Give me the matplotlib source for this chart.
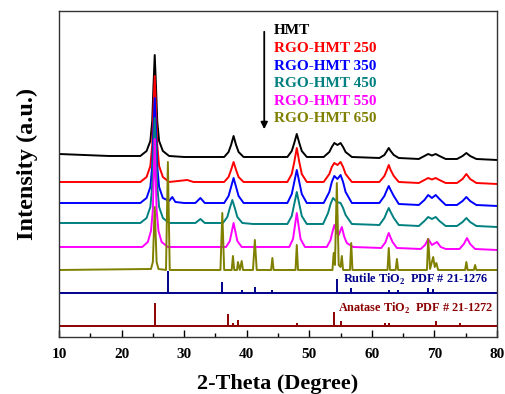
import matplotlib
matplotlib.use('Agg')
import matplotlib.pyplot as plt
from matplotlib.ticker import MultipleLocator

###############################################################################
# Data (2-theta in degrees, intensity in plotted a.u. incl. vertical offset)
###############################################################################
hmtX = [10, 14, 18, 23.0, 24.0, 24.6, 24.9, 25.1, 25.3, 25.5, 25.7, 26.0, 26.6,
        27.6, 30, 33, 36.4, 37.1, 37.5, 37.9, 38.3, 38.7, 39.5, 41, 46.5,
        47.2, 47.6, 48.0, 48.4, 48.8, 49.6, 52.3, 53.2, 53.6, 54.0, 54.5, 55.0,
        55.4, 55.8, 56.8, 61.2, 62.0, 62.4, 62.7, 63.0, 63.5, 64.3, 67.5, 68.4,
        69.0, 69.6, 70.2, 70.8, 71.8, 73.6, 74.5, 75.1, 75.7, 76.7, 80]
hmtY = [183, 182, 181, 181, 186, 196, 216, 251, 282, 251, 216, 196, 186,
        181, 180, 180, 180, 185, 192, 201, 192, 185, 180, 180, 180,
        186, 194, 203, 194, 186, 180, 180, 185, 190, 194, 192, 194,
        190, 185, 180, 179, 182, 186, 189, 186, 182, 179, 178, 181,
        183, 181.5, 183, 181, 178, 178, 181, 184, 181, 178, 177]

r250X = [10, 18, 23.0, 24.0, 24.6, 24.9, 25.1, 25.3, 25.5, 25.7, 26.0, 26.6,
         27.6, 30.5, 31.5, 36.4, 37.1, 37.5, 37.9, 38.3, 38.7, 39.5, 46.5,
         47.2, 47.6, 48.0, 48.4, 48.8, 49.6, 52.3, 53.2, 53.6, 54.0, 54.5, 55.0,
         55.4, 55.8, 56.8, 61.2, 62.0, 62.4, 62.7, 63.0, 63.5, 64.3, 67.5, 68.4,
         69.0, 69.6, 70.2, 70.8, 71.8, 73.6, 74.5, 75.1, 75.7, 76.7, 80]
r250Y = [155, 155, 155, 160, 171, 192, 229, 261, 229, 192, 171, 160,
         155, 157, 155, 155, 160, 167, 175, 167, 160, 155, 155,
         163, 175, 189, 175, 163, 155, 155, 163, 170, 174, 172, 175,
         170, 163, 155, 155, 161, 167, 172, 167, 161, 155, 154, 157,
         159, 157.5, 159, 157, 154, 154, 158, 163, 158, 154, 153]

r350X = [10, 18, 23.0, 24.0, 24.6, 24.9, 25.1, 25.3, 25.5, 25.7, 26.0, 26.6,
         27.6, 28.1, 28.6, 30, 31.8, 32.6, 33.3, 36.4, 37.1, 37.5, 37.9, 38.3,
         38.7, 39.5, 46.5, 47.2, 47.6, 48.0, 48.4, 48.8, 49.6, 52.3, 53.2, 53.6,
         54.0, 54.5, 55.0, 55.4, 55.8, 56.8, 61.2, 62.0, 62.4, 62.7, 63.0, 63.5,
         64.3, 67.5, 68.4, 69.0, 69.6, 70.2, 70.8, 71.8, 73.6, 74.5, 75.1, 75.7,
         76.7, 80]
r350Y = [134, 134, 134, 139, 150, 171, 208, 239, 208, 171, 150, 139,
         136, 140, 135, 134, 134, 139, 134, 134, 141, 150, 159, 150,
         141, 134, 134, 143, 155, 167, 155, 143, 134, 134, 145, 155,
         161, 158, 162, 155, 145, 134, 134, 141, 147, 151, 147, 141,
         133, 132, 137, 142, 139, 142, 138, 132, 132, 136, 140, 136,
         132, 131]

r450X = [10, 18, 23.0, 24.0, 24.6, 24.9, 25.1, 25.3, 25.5, 25.7, 26.0, 26.6,
         27.6, 30, 31.8, 32.6, 33.3, 36.2, 36.9, 37.3, 37.7, 38.1, 38.5, 39.3,
         41, 46.5, 47.2, 47.6, 48.0, 48.4, 48.8, 49.6, 52.2, 53.0, 53.4, 53.8,
         54.4, 55.0, 55.4, 55.8, 56.8, 61.2, 62.0, 62.4, 62.7, 63.0, 63.5, 64.3,
         67.5, 68.4, 69.0, 69.6, 70.2, 70.8, 71.8, 73.6, 74.5, 75.1, 75.7, 76.7,
         80]
r450Y = [114, 114, 114, 119, 130, 151, 188, 219, 188, 151, 130, 119,
         114, 114, 114, 118, 114, 114, 120, 129, 137, 129, 120, 114,
         113, 113, 121, 133, 145, 133, 121, 113, 113, 124, 133, 139,
         135, 134, 129, 122, 113, 112, 119, 125, 129, 125, 119, 112,
         111, 116, 120, 118, 120, 116, 111, 111, 115, 119, 115, 111,
         110]

r550X = [10, 18, 23.3, 24.2, 24.7, 25.0, 25.15, 25.3, 25.45, 25.6, 25.9, 26.4,
         27.4, 30, 36.7, 37.3, 37.6, 37.9, 38.2, 38.5, 39.2, 46.8, 47.4, 47.7,
         48.0, 48.3, 48.6, 49.3, 52.8, 53.4, 53.7, 54.0, 54.4, 54.7, 55.2, 55.6,
         56.0, 57, 61.5, 62.2, 62.45, 62.7, 62.95, 63.3, 64.0, 67.8, 68.5, 69.0,
         69.6, 70.4, 71.0, 71.8, 74.0, 74.7, 75.2, 75.7, 76.5, 80]
r550Y = [90, 90, 90, 95, 106, 127, 163, 198, 163, 127, 106, 95,
         90, 90, 90, 96, 105, 114, 105, 96, 90, 90, 98, 111,
         124, 111, 98, 90, 90, 97, 105, 112, 104, 102, 110, 100,
         94, 90, 89, 95, 100, 104, 100, 95, 89, 88, 92, 98,
         92, 95, 90, 88, 88, 93, 99, 93, 88, 87]

r650X = [10, 24.7, 25.0, 25.3, 25.6, 25.9, 27.1, 27.4, 27.7, 35.8, 36.1, 36.4,
         37.6, 37.8, 38.0, 38.45, 38.6, 38.9, 39.2, 39.4, 41.0, 41.3, 41.6, 43.9,
         44.1, 44.3, 47.8, 48.0, 48.2, 53.7, 53.9, 54.1, 54.4, 54.7, 55.0, 55.2,
         55.4, 56.5, 56.7, 56.9, 62.5, 62.7, 62.9, 63.8, 64.0, 64.2, 68.8, 69.0,
         69.3, 69.8, 70.05, 70.3, 70.6, 74.9, 75.1, 75.3, 76.3, 76.5, 76.7, 80]
r650Y = [67, 68, 75, 130, 75, 68, 67, 175, 67, 67, 124, 67,
         67, 81, 67, 67, 75, 67, 76, 67, 67, 97, 67, 67,
         79, 67, 67, 92, 67, 67, 84, 72, 154, 72, 70, 81,
         67, 67, 94, 67, 67, 89, 67, 67, 78, 67, 67, 98,
         68, 80, 70, 74, 67, 67, 75, 67, 67, 72, 67, 67]

names = ['HMT', 'RGO-HMT 250', 'RGO-HMT 350', 'RGO-HMT 450',
         'RGO-HMT 550', 'RGO-HMT 650']
colors = ['black', '#FF0000', '#0000FF', '#008080', '#FF00FF', '#808000']
seriesX = [hmtX, r250X, r350X, r450X, r550X, r650X]
seriesY = [hmtY, r250Y, r350Y, r450Y, r550Y, r650Y]

# Reference patterns (stick positions and heights)
rutilePos = [27.4, 36.1, 39.2, 41.3, 44.1, 54.4, 56.7, 62.8, 64.1, 69.0, 69.8]
rutileInt = [22, 11, 3, 6, 3, 14, 5, 3, 3, 5, 4]
anatasePos = [25.3, 37.0, 37.8, 38.6, 48.0, 53.9, 55.1, 62.1, 62.7, 70.3, 74.1]
anataseInt = [23, 12, 3, 6, 3, 14, 5, 3, 3, 5, 3]
(RUTILE_BASE, ANATASE_BASE) = (44, 11)

###############################################################################
# Style
###############################################################################
plt.rcParams['font.family'] = ['Liberation Serif', 'DejaVu Serif']
plt.rcParams['font.weight'] = 'bold'
plt.rcParams['mathtext.fontset'] = 'custom'
plt.rcParams['mathtext.rm'] = 'Liberation Serif:bold'
plt.rcParams['mathtext.bf'] = 'Liberation Serif:bold'

fig = plt.figure(figsize=(5.05, 3.94), dpi=100)
ax = fig.add_axes([0.1168, 0.1447, 0.8674, 0.8274])

for (x, y, c) in zip(seriesX, seriesY, colors):
    ax.plot(x, y, color=c, linewidth=1.4)

# Reference sticks --------------------------------------------------------------
ax.axhline(RUTILE_BASE, color='#00008B', linewidth=1.4)
ax.vlines(rutilePos, RUTILE_BASE, [RUTILE_BASE + i for i in rutileInt],
          color='#00008B', linewidth=1.4)
ax.axhline(ANATASE_BASE, color='#8B0000', linewidth=1.4)
ax.vlines(anatasePos, ANATASE_BASE, [ANATASE_BASE + i for i in anataseInt],
          color='#8B0000', linewidth=1.4)
ax.text(55.4, 58, r'Rutile TiO$_{2}$  PDF # 21-1276', color='#00008B',
        fontsize=8.8, fontweight='bold', va='center', ha='left')
ax.text(54.6, 29, r'Anatase TiO$_{2}$  PDF # 21-1272', color='#8B0000',
        fontsize=8.8, fontweight='bold', va='center', ha='left')

# Legend text + arrow -----------------------------------------------------------
for (i, (n, c)) in enumerate(zip(names, colors)):
    ax.text(44.4, 306 - i * 17.6, n, color=c, fontsize=11,
            fontweight='bold', va='center', ha='left')
ax.annotate('', xy=(42.8, 205), xytext=(42.8, 308),
            arrowprops=dict(arrowstyle='-|>', color='black', lw=1.3,
                            mutation_scale=10))

# Axes -------------------------------------------------------------------------
ax.set_xlim(10, 80)
ax.set_ylim(0, 326)
ax.xaxis.set_major_locator(MultipleLocator(10))
ax.xaxis.set_minor_locator(MultipleLocator(5))
ax.tick_params(axis='x', which='major', direction='in', length=5, width=1,
               labelsize=11, pad=8)
ax.tick_params(axis='x', which='minor', direction='in', length=3, width=1)
ax.set_yticks([])
for s in ax.spines.values():
    s.set_color('#333333')
    s.set_linewidth(1)
for lab in ax.get_xticklabels():
    lab.set_fontweight('bold')
ax.set_xlabel('2-Theta (Degree)', fontsize=16, fontweight='bold', labelpad=9.5)
ax.set_ylabel('Intensity (a.u.)', fontsize=17.5, fontweight='bold', labelpad=15)
ax.yaxis.label.set_y(0.53)

fig.savefig('out.png', dpi=100)
